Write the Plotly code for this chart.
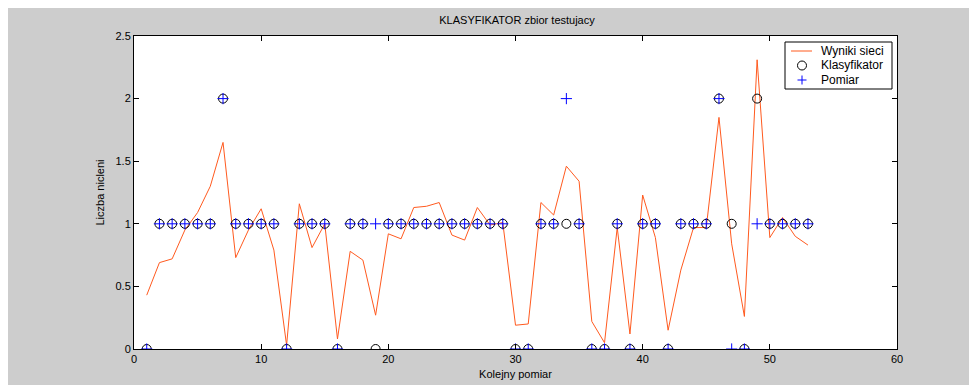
import plotly.graph_objects as go

pomiary = list(range(1, 54))

wyniki_sieci = [0.43, 0.69, 0.72, 0.95, 1.09, 1.30, 1.65, 0.73, 0.95, 1.12,
                0.79, 0.03, 1.16, 0.81, 1.00, 0.08, 0.78, 0.71, 0.27, 0.92,
                0.88, 1.13, 1.14, 1.17, 0.91, 0.87, 1.13, 0.99, 1.01, 0.19,
                0.20, 1.17, 1.07, 1.46, 1.34, 0.22, 0.05, 0.97, 0.12, 1.23,
                0.89, 0.15, 0.63, 0.97, 0.97, 1.85, 0.84, 0.26, 2.31, 0.89,
                1.05, 0.90, 0.83]

klasyfikator = [0, 1, 1, 1, 1, 1, 2, 1, 1, 1,
                1, 0, 1, 1, 1, 0, 1, 1, 0, 1,
                1, 1, 1, 1, 1, 1, 1, 1, 1, 0,
                0, 1, 1, 1, 1, 0, 0, 1, 0, 1,
                1, 0, 1, 1, 1, 2, 1, 0, 2, 1,
                1, 1, 1]

pomiar = [0, 1, 1, 1, 1, 1, 2, 1, 1, 1,
          1, 0, 1, 1, 1, 0, 1, 1, 1, 1,
          1, 1, 1, 1, 1, 1, 1, 1, 1, 0,
          0, 1, 1, 2, 1, 0, 0, 1, 0, 1,
          1, 0, 1, 1, 1, 2, 0, 0, 1, 1,
          1, 1, 1]

series_names = ["Wyniki sieci", "Klasyfikator", "Pomiar"]

x_ticks = [0, 10, 20, 30, 40, 50, 60]
y_ticks = [0, 0.5, 1, 1.5, 2, 2.5]
y_tick_text = ["0", "0.5", "1", "1.5", "2", "2.5"]

GREY = "#cdcdcd"
ORANGE = "#ff5a1f"
BLUE = "#0000ff"
FONT = "Liberation Sans, Arial, sans-serif"

# page offset of the plotly div (default body margin)
OFF = 8
W, H = 977 - OFF, 385 - OFF
# plot area in page pixels
PL, PR, PT, PB = 134, 897, 36, 349
L, R, T, B = PL - OFF, (W + OFF) - PR, PT - OFF, (H + OFF) - PB
pw, ph = PR - PL, PB - PT


def px_x(p):
    return (p - PL) / pw


def px_y(p):
    return (PB - p) / ph


fig = go.Figure()
fig.add_trace(go.Scatter(x=pomiary, y=wyniki_sieci, mode="lines", name=series_names[0],
                         line=dict(color=ORANGE, width=1)))
fig.add_trace(go.Scatter(x=pomiary, y=klasyfikator, mode="markers", name=series_names[1],
                         marker=dict(symbol="circle-open", size=9, color="black",
                                     line=dict(color="black", width=1))))
fig.add_trace(go.Scatter(x=pomiary, y=pomiar, mode="markers", name=series_names[2],
                         marker=dict(symbol="cross-thin-open", size=8, color=BLUE,
                                     line=dict(color=BLUE, width=1))))

# custom legend (page coordinates)
LX0, LX1, LY0, LY1 = 785, 892, 42, 89
rows = [51, 65.5, 80]
sym_cx = 802
shapes = [
    dict(type="rect", xref="paper", yref="paper", x0=px_x(970), x1=px_x(990),
         y0=px_y(400), y1=px_y(-10), fillcolor="white", line=dict(width=0), layer="above"),
    dict(type="rect", xref="paper", yref="paper", x0=px_x(LX0), x1=px_x(LX1),
         y0=px_y(LY1), y1=px_y(LY0), fillcolor="white",
         line=dict(color="black", width=1), layer="above"),
    dict(type="line", xref="paper", yref="paper", x0=px_x(791), x1=px_x(812),
         y0=px_y(rows[0]), y1=px_y(rows[0]), line=dict(color=ORANGE, width=1), layer="above"),
    dict(type="circle", xref="paper", yref="paper", x0=px_x(sym_cx - 4.5), x1=px_x(sym_cx + 4.5),
         y0=px_y(rows[1] + 4.5), y1=px_y(rows[1] - 4.5), line=dict(color="black", width=1),
         layer="above"),
    dict(type="line", xref="paper", yref="paper", x0=px_x(sym_cx - 4.5), x1=px_x(sym_cx + 4.5),
         y0=px_y(rows[2]), y1=px_y(rows[2]), line=dict(color=BLUE, width=1), layer="above"),
    dict(type="line", xref="paper", yref="paper", x0=px_x(sym_cx), x1=px_x(sym_cx),
         y0=px_y(rows[2] + 4.5), y1=px_y(rows[2] - 4.5), line=dict(color=BLUE, width=1),
         layer="above"),
]
annotations = [
    dict(text=name, xref="paper", yref="paper", x=px_x(819), y=px_y(ry), xanchor="left",
         yanchor="middle", showarrow=False, font=dict(size=12, family=FONT, color="black"))
    for name, ry in zip(series_names, rows)
]

fig.update_layout(
    width=W, height=H,
    margin=dict(l=L, r=R, t=T, b=B, autoexpand=False),
    paper_bgcolor=GREY, plot_bgcolor="white",
    font=dict(family=FONT, size=11, color="black"),
    title=dict(text="KLASYFIKATOR zbior testujacy", x=px_x(517) * pw / W + L / W,
               xanchor="center", y=1 - (20 - OFF) / H, yanchor="middle",
               font=dict(size=11, family=FONT)),
    showlegend=False,
    shapes=shapes,
    annotations=annotations,
)
fig.update_xaxes(range=[0, 60], tickvals=x_ticks, ticktext=[str(v) for v in x_ticks],
                 showgrid=False, zeroline=False, showline=True, linecolor="black", linewidth=1,
                 mirror="ticks", ticks="inside", ticklen=5, tickcolor="black", automargin=False,
                 title=dict(text="Kolejny pomiar", standoff=6, font=dict(size=11)),
                 tickfont=dict(size=11))
fig.update_yaxes(range=[0, 2.5], tickvals=y_ticks, ticktext=y_tick_text,
                 showgrid=False, zeroline=False, showline=True, linecolor="black", linewidth=1,
                 mirror="ticks", ticks="inside", ticklen=5, tickcolor="black", automargin=False,
                 title=dict(text="Liczba nicleni", standoff=8, font=dict(size=11)),
                 tickfont=dict(size=11))

fig.write_html("out.html")
